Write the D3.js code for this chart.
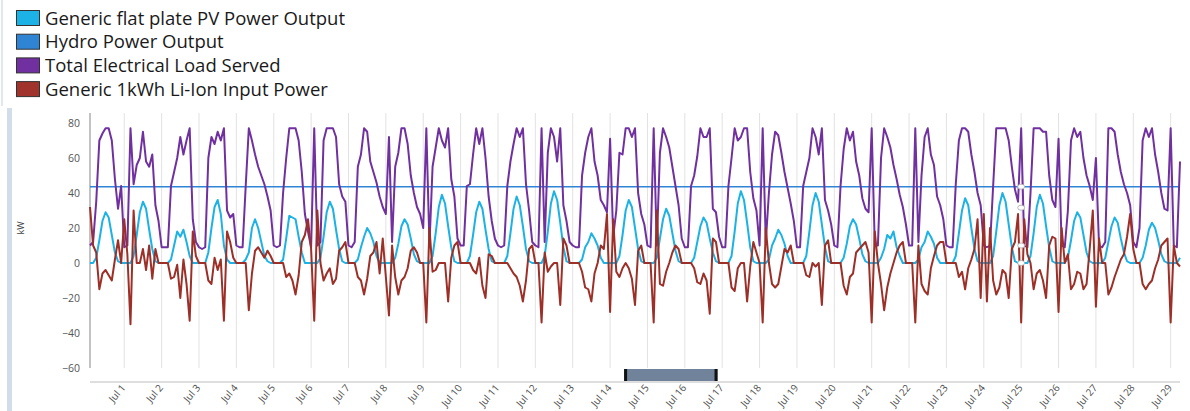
<!DOCTYPE html>
<html>
<head>
<meta charset="utf-8">
<script src="https://cdn.jsdelivr.net/npm/d3@7"></script>
<style>
  body { margin: 0; background: #fff; font-family: "Open Sans", sans-serif; }
  svg { display: block; }
</style>
</head>
<body>
<div id="chart"></div>
<script>
// series sampled every 2 hours, from Jun 30 02:00 to Jul 29 06:00
var startTime = Date.UTC(2023, 5, 30, 2);
var stepHours = 2;

var seriesNames = ["Generic flat plate PV Power Output", "Hydro Power Output",
                   "Total Electrical Load Served", "Generic 1kWh Li-Ion Input Power"];
var seriesColors = ["#1cb2e6", "#2f84d4", "#7030a0", "#a0332c"];

var hydroKW = 43.6;

var pvKW = [
  0,0,3,13,24,29,26,16,6,1,0,            // Jun 30
  0,0,0,4,16,29,35,31,19,8,1,0,          // Jul 1
  0,0,0,2,10,18,15,19,12,4,0,0,
  0,0,0,6,20,32,36,28,10,2,0,0,
  0,0,0,2,6,20,25,20,12,4,1,0,
  0,0,0,2,14,27,26,25,15,6,0,0,          // Jul 5
  0,0,0,3,15,29,35,31,19,8,1,0,
  0,0,0,2,9,15,20,17,12,4,0,0,
  0,0,0,3,11,21,25,22,14,5,1,0,
  0,0,0,4,17,32,39,34,21,9,1,0,
  0,0,0,4,16,29,35,31,19,8,1,0,          // Jul 10
  0,0,0,4,17,31,38,33,21,8,1,0,
  0,0,0,4,18,34,41,36,23,9,1,0,
  0,0,0,2,9,12,17,14,10,3,0,0,
  0,0,0,4,16,30,36,32,20,8,1,0,
  0,0,0,3,14,25,31,27,17,7,1,0,          // Jul 15
  0,0,0,3,12,21,26,23,14,6,1,0,
  0,0,0,4,18,34,41,36,23,9,1,0,
  0,0,0,2,10,14,19,16,11,4,0,0,
  0,0,0,4,18,33,40,35,22,9,1,0,
  0,0,0,3,11,21,25,22,14,5,1,0,          // Jul 20
  0,0,0,3,8,16,14,18,9,4,0,0,
  0,0,0,2,9,12,18,15,11,3,0,0,
  0,0,0,4,17,30,37,33,20,8,1,0,
  0,0,0,4,18,33,40,35,22,9,1,0,
  0,0,0,4,17,32,39,34,21,9,1,0,          // Jul 25
  0,0,0,3,13,24,29,26,16,6,1,0,
  0,0,0,3,12,21,26,23,14,6,1,0,
  0,0,0,3,10,19,23,20,13,5,1,0,
  0,0,0,3                                // Jul 29
];

var loadKW = [
  10,12,35,70,74,77,77,70,48,31,44,      // Jun 30
  9,10,77,45,56,60,75,58,55,62,33,24,    // Jul 1
  9,9,9,44,52,60,72,62,70,77,25,12,
  9,8,9,60,72,68,75,70,77,30,26,28,
  10,9,9,44,77,70,62,55,50,45,38,30,
  10,9,10,40,60,77,77,77,70,52,28,18,    // Jul 5
  9,77,10,12,70,77,77,77,72,45,38,35,
  10,9,12,55,62,77,75,58,52,46,38,32,
  28,72,12,55,63,77,77,68,50,40,32,28,
  20,77,10,55,66,77,70,66,77,48,38,14,
  10,10,44,45,62,77,68,77,60,38,24,14,   // Jul 10
  10,9,10,44,58,68,77,72,77,45,30,12,
  10,9,77,12,63,77,72,58,77,33,24,12,
  10,9,9,50,63,72,77,58,50,36,33,29,
  71,15,30,63,62,77,77,72,77,40,28,22,
  10,9,77,10,63,77,72,66,55,44,33,14,    // Jul 15
  9,9,44,50,61,77,72,72,77,31,29,15,
  9,9,44,60,77,70,72,77,77,52,37,30,
  10,77,12,40,62,75,73,63,52,43,34,24,
  9,9,44,52,60,77,72,62,77,36,30,22,
  10,9,44,65,77,70,75,58,50,37,31,29,    // Jul 20
  77,10,10,60,77,72,66,56,48,39,32,22,
  10,10,77,12,50,72,77,62,56,38,33,25,
  10,9,9,45,70,77,77,75,62,52,40,33,
  10,9,10,44,77,77,77,77,70,55,42,35,
  77,10,9,40,77,77,77,75,75,50,36,32,    // Jul 25
  71,10,9,30,70,77,72,75,60,50,44,36,
  60,10,9,12,77,77,75,62,52,45,40,33,
  12,9,20,70,77,72,77,62,52,40,31,30,
  77,10,9,58                             // Jul 29
];

var batteryKW = [
  32,10,6,-15,-6,-4,-7,-10,2,13,0,       // Jun 30
  25,5,-35,30,0,0,8,-4,10,-9,8,0,        // Jul 1
  0,0,0,-9,-8,-1,-20,2,-12,-33,18,4,
  0,0,0,-10,-12,3,-4,2,-33,18,12,3,
  0,0,0,0,-27,-6,7,9,6,3,7,4,
  0,0,0,0,-8,-6,-10,-18,-7,12,16,25,     // Jul 5
  8,-33,30,0,-10,-6,-3,-12,-9,7,9,12,
  0,0,0,-8,-10,-18,-9,4,6,12,-6,14,
  -8,-30,10,-8,-18,-10,-8,-3,7,9,6,0,
  0,-34,20,-5,-4,0,0,0,-22,3,10,12,
  0,0,0,0,-4,-6,3,-13,-20,5,4,0,         // Jul 10
  0,0,0,0,-3,-6,-8,-13,-22,-10,8,10,
  0,0,-34,6,-5,-2,0,0,-24,14,10,0,
  0,0,0,-5,-14,-15,-22,-6,0,10,8,28,
  -28,25,-5,-8,-3,0,-3,-9,-24,7,10,0,
  0,0,-34,30,-12,-13,-5,0,6,10,8,0,      // Jul 15
  0,0,0,-3,-11,-12,-6,-10,-29,14,12,0,
  0,0,0,-14,-16,-3,0,0,-22,-2,12,6,
  0,-34,20,0,-12,-14,-12,-2,8,6,10,0,
  0,0,0,-7,-8,0,-2,0,-24,10,13,0,
  0,0,0,-13,-18,-8,-6,6,8,10,12,6,       // Jul 20
  -34,18,0,-12,-27,-14,-6,0,6,10,12,0,
  0,0,-34,10,-12,-16,-18,-3,4,10,12,12,
  0,0,0,0,-8,-5,-15,-3,2,8,25,-20,
  28,-22,20,-10,-18,-14,-4,-6,-20,8,12,28,
  -34,25,5,0,-15,-6,-4,-10,-20,10,15,14, // Jul 25
  -28,20,0,5,-15,-12,-5,-6,-15,-12,8,30,
  -25,14,0,0,-18,-14,-8,-3,2,5,15,28,
  8,0,0,-12,-15,-12,-10,-3,2,10,12,14,
  -34,10,0,-2                            // Jul 29
];

var yTicks = [-60, -40, -20, 0, 20, 40, 60, 80];
var dayTicks = d3.utcDay.range(Date.UTC(2023, 6, 1), Date.UTC(2023, 6, 30)); // Jul 1 .. Jul 29
var scrollWindow = [Date.UTC(2023, 6, 14, 9), Date.UTC(2023, 6, 16, 21)];
// hover markers seen at Jul 25 00:00 : hydro, battery, load, pv
var hoverTime = Date.UTC(2023, 6, 25, 0);
var hoverValues = [43.6, 31.6, 10, 0];

var times = pvKW.map((d, i) => new Date(startTime + i * stepHours * 3600e3));

var svg = d3.select("#chart").append("svg")
    .attr("width", 1190)
    .attr("height", 411);

// panel edges on the left
svg.append("rect").attr("x", 1).attr("y", 0).attr("width", 2).attr("height", 106).attr("fill", "#e2e7ee");
svg.append("rect").attr("x", 7).attr("y", 108).attr("width", 5).attr("height", 303).attr("fill", "#d3dde9");

// legend
var legend = svg.append("g").attr("transform", "translate(16,10)");
seriesNames.forEach((name, i) => {
    var g = legend.append("g").attr("transform", "translate(0," + (i * 23.7) + ")");
    g.append("rect").attr("x", 0.5).attr("y", 0.5).attr("width", 23).attr("height", 15)
        .attr("fill", seriesColors[i]).attr("stroke", "#333").attr("stroke-width", 1);
    g.append("text").attr("x", 29).attr("y", 14.5)
        .attr("font-size", 18.5).attr("fill", "#1a1a1a").text(name);
});

var x = d3.scaleUtc()
    .domain([times[0], times[times.length - 1]])
    .range([90, 1180]);
var y = d3.scaleLinear().domain([-60, 80]).range([368, 123]);

// day grid lines
svg.append("g").selectAll("line")
    .data(dayTicks)
    .enter().append("line")
    .attr("x1", d => x(d)).attr("x2", d => x(d))
    .attr("y1", 113).attr("y2", 368)
    .attr("stroke", "#e2e2e2").attr("stroke-width", 1);

// y axis
var yAxis = svg.append("g").attr("transform", "translate(90,0)")
    .call(d3.axisLeft(y).tickValues(yTicks).tickSize(0).tickPadding(10));
yAxis.select(".domain").remove();
yAxis.selectAll("text").attr("font-size", 10.5).attr("fill", "#555").attr("font-family", "Open Sans, sans-serif");
svg.append("line").attr("x1", 90).attr("x2", 90).attr("y1", 113).attr("y2", 368)
    .attr("stroke", "#9a9a9a").attr("stroke-width", 1.2);

svg.append("text")
    .attr("transform", "translate(24,228) rotate(-90)")
    .attr("text-anchor", "middle").attr("font-size", 9).attr("fill", "#444")
    .text("kW");

// x axis
svg.append("line").attr("x1", 90).attr("x2", 1180).attr("y1", 382).attr("y2", 382)
    .attr("stroke", "#bdbdbd").attr("stroke-width", 1);
var fmt = d3.utcFormat("%b %-d");
svg.append("g").selectAll("text")
    .data(dayTicks)
    .enter().append("text")
    .attr("transform", d => "translate(" + (x(d) + 2) + ",388) rotate(-50)")
    .attr("text-anchor", "end")
    .attr("font-size", 10).attr("fill", "#505050")
    .text(d => fmt(d));

// scroll thumb
svg.append("rect")
    .attr("x", x(scrollWindow[0])).attr("y", 369)
    .attr("width", x(scrollWindow[1]) - x(scrollWindow[0])).attr("height", 12)
    .attr("fill", "#71839a");
svg.append("rect").attr("x", x(scrollWindow[0])).attr("y", 369).attr("width", 3).attr("height", 12).attr("fill", "#111");
svg.append("rect").attr("x", x(scrollWindow[1]) - 3).attr("y", 369).attr("width", 3).attr("height", 12).attr("fill", "#111");

// lines
var line = d3.line().x((d, i) => x(times[i])).y(d => y(d));

svg.append("path").datum(pvKW)
    .attr("fill", "none").attr("stroke", seriesColors[0]).attr("stroke-width", 2)
    .attr("stroke-linejoin", "round").attr("d", line);

svg.append("line")
    .attr("x1", x(times[0])).attr("x2", x(times[times.length - 1]))
    .attr("y1", y(hydroKW)).attr("y2", y(hydroKW))
    .attr("stroke", seriesColors[1]).attr("stroke-width", 1.6);

svg.append("path").datum(loadKW)
    .attr("fill", "none").attr("stroke", seriesColors[2]).attr("stroke-width", 2)
    .attr("stroke-linejoin", "round").attr("d", line);

svg.append("path").datum(batteryKW)
    .attr("fill", "none").attr("stroke", "#9c2f27").attr("stroke-width", 2)
    .attr("stroke-linejoin", "round").attr("d", line);

// hover markers
svg.append("g").selectAll("ellipse")
    .data(hoverValues)
    .enter().append("ellipse")
    .attr("cx", x(hoverTime)).attr("cy", d => y(d))
    .attr("rx", 3.5).attr("ry", 2.5)
    .attr("fill", "#fff").attr("stroke", "#aaa").attr("stroke-width", 0.8);
</script>
</body>
</html>
